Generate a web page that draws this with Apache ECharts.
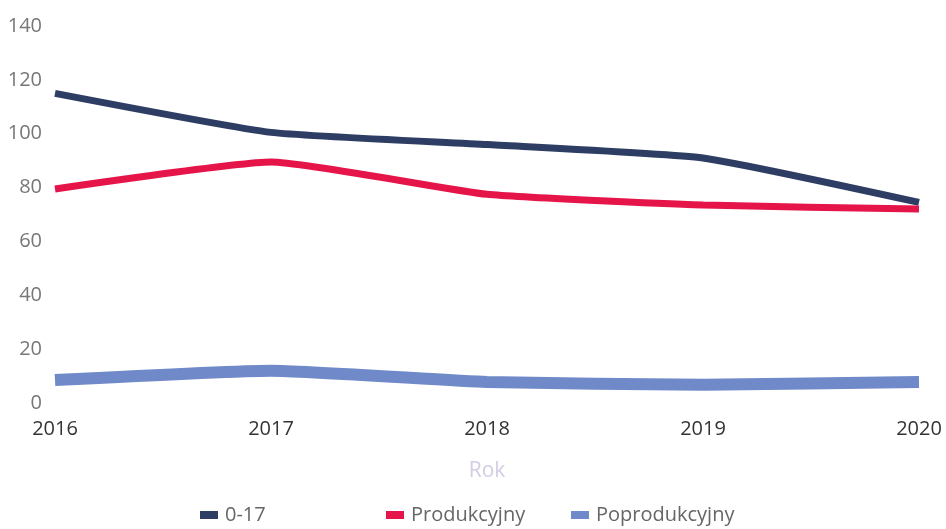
<!DOCTYPE html>
<html>
<head>
<meta charset="utf-8">
<script src="https://cdn.jsdelivr.net/npm/echarts@6/dist/echarts.min.js"></script>
<style>
	html, body { margin: 0; padding: 0; background: #fff; }
	#chart { width: 946px; height: 529px; }
</style>
</head>
<body>
<div id="chart"></div>
<script>
// dane
var years = ['2016', '2017', '2018', '2019', '2020'];
var wiek0_17 = [115, 100.5, 96, 91, 74.5];
var produkcyjny = [79.5, 89.5, 77.5, 73.5, 72];
var poprodukcyjny = [8.5, 12, 7.8, 6.8, 7.8];
var yTicks = [0, 20, 40, 60, 80, 100, 120, 140];
var seriesNames = ['0-17', 'Produkcyjny', 'Poprodukcyjny'];
var colors = ['#2e3d63', '#e5154a', '#7089c8'];

var chart = echarts.init(document.getElementById('chart'));

// legenda - osobno, bo odstepy nierowne
var legendLeft = [200, 386, 571];
var legends = seriesNames.map(function (n, i) {
	return {
		left: legendLeft[i],
		top: 505,
		padding: 0,
		itemWidth: 18,
		itemHeight: 8,
		itemGap: 0,
		icon: 'rect',
		textStyle: { color: '#666', fontSize: 20, fontFamily: 'Open Sans', padding: [0, 0, 0, 2] },
		data: [n]
	};
});

var option = {
	animation: false,
	textStyle: { fontFamily: 'Open Sans' },
	grid: { left: 55, right: 27, top: 26, bottom: 126, containLabel: false },
	legend: legends,
	xAxis: {
		type: 'category',
		data: years,
		boundaryGap: false,
		name: 'Rok',
		nameLocation: 'middle',
		nameGap: 58,
		nameTextStyle: { color: '#d4cce4', fontSize: 21 },
		axisLine: { show: false },
		axisTick: { show: false },
		axisLabel: { color: '#333', fontSize: 20, margin: 16, interval: 0 },
		splitLine: { show: false }
	},
	yAxis: {
		type: 'value',
		min: yTicks[0],
		max: yTicks[yTicks.length - 1],
		interval: 20,
		axisLine: { show: false },
		axisTick: { show: false },
		axisLabel: { color: '#777', fontSize: 20, margin: 13 },
		splitLine: { show: false }
	},
	series: [
		{
			name: seriesNames[0],
			type: 'line',
			data: wiek0_17,
			smooth: 0.15,
			showSymbol: false,
			lineStyle: { color: colors[0], width: 7 },
			itemStyle: { color: colors[0] }
		},
		{
			name: seriesNames[1],
			type: 'line',
			data: produkcyjny,
			smooth: 0.15,
			showSymbol: false,
			lineStyle: { color: colors[1], width: 7 },
			itemStyle: { color: colors[1] }
		},
		{
			name: seriesNames[2],
			type: 'line',
			data: poprodukcyjny,
			smooth: 0.15,
			showSymbol: false,
			lineStyle: { color: colors[2], width: 12 },
			itemStyle: { color: colors[2] }
		}
	]
};

chart.setOption(option);
</script>
</body>
</html>
